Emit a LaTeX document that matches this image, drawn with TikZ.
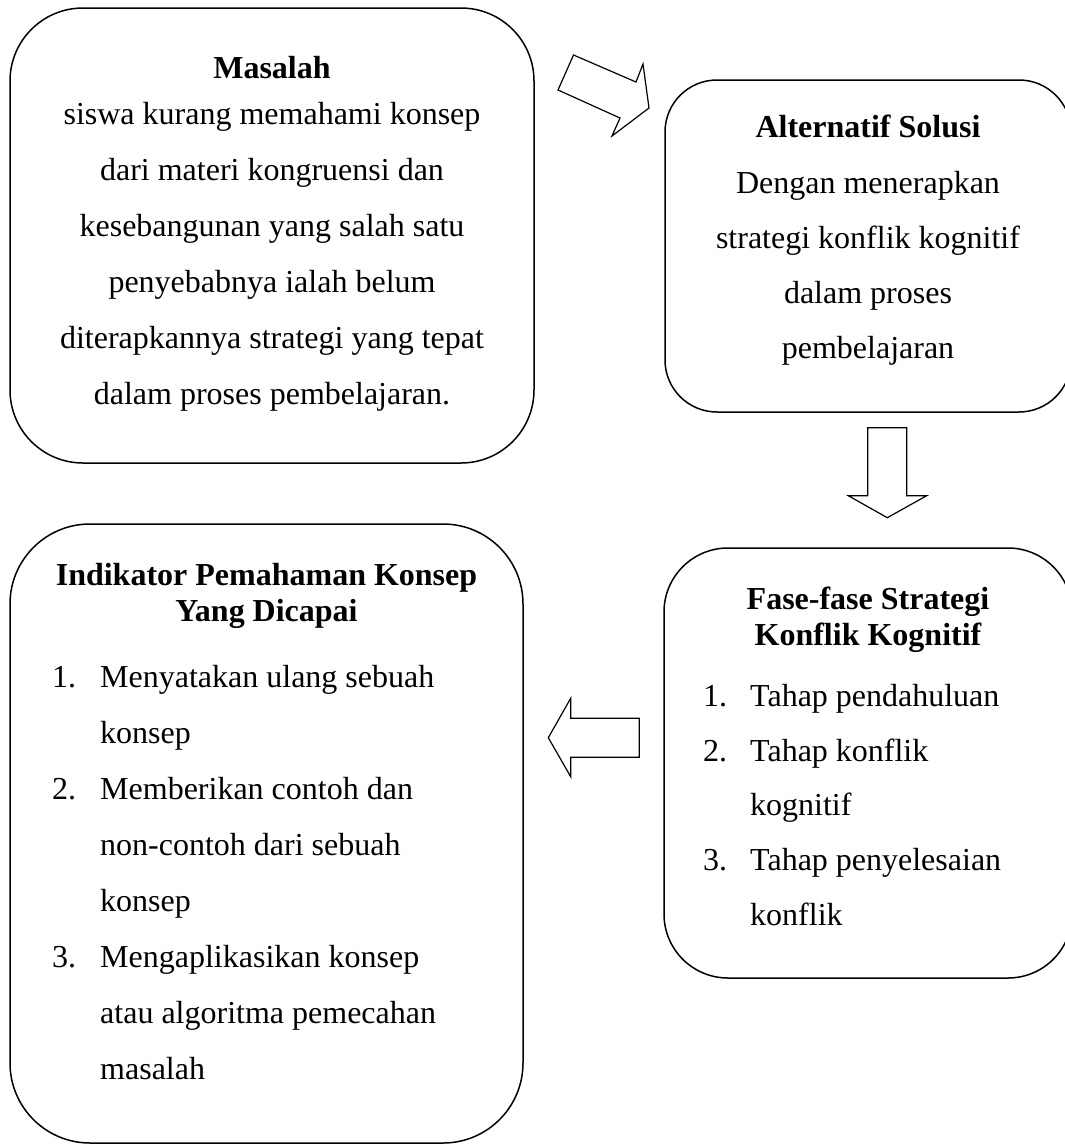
\documentclass[tikz,border=0pt]{standalone}
\usepackage{fontspec}
\setmainfont{Liberation Serif}
\begin{document}
\begin{tikzpicture}[x=1pt,y=-1pt,
  box/.style={draw, line width=1.5pt, rectangle, inner sep=0pt, outer sep=0pt},
  txt/.style={anchor=base, inner sep=0pt, font=\fontsize{32}{38}\selectfont},
  ttl/.style={anchor=base, inner sep=0pt, font=\fontsize{32}{38}\selectfont\bfseries},
  lft/.style={anchor=base west, inner sep=0pt, font=\fontsize{32}{38}\selectfont},
  blk/.style={draw, line width=1.2pt, line join=miter}]
\useasboundingbox (0,0) rectangle (1065,1144);
\clip (0,0) rectangle (1065,1144);

% boxes
\node[box, minimum width=524pt, minimum height=455pt, rounded corners=73pt] (masalah) at (272,235.5) {};
\node[box, minimum width=406pt, minimum height=332pt, rounded corners=52pt] (solusi) at (868,246) {};
\node[box, minimum width=408pt, minimum height=430pt, rounded corners=64pt] (fase) at (868,763) {};
\node[box, minimum width=513pt, minimum height=619pt, rounded corners=80pt] (indikator) at (266.5,833.5) {};

% Masalah text
\node[ttl] (m0) at (272,78) {Masalah};
\node[txt] (m1) at (272,124) {siswa kurang memahami konsep};
\node[txt] (m2) at (272,180) {dari materi kongruensi dan};
\node[txt] (m3) at (272,236) {kesebangunan yang salah satu};
\node[txt] (m4) at (272,292) {penyebabnya ialah belum};
\node[txt] (m5) at (272,348) {diterapkannya strategi yang tepat};
\node[txt] (m6) at (272,404) {dalam proses pembelajaran.};

% Alternatif Solusi text
\node[ttl] (s0) at (868,137) {Alternatif Solusi};
\node[txt] (s1) at (868,193) {Dengan menerapkan};
\node[txt] (s2) at (868,248) {strategi konflik kognitif};
\node[txt] (s3) at (868,303) {dalam proses};
\node[txt] (s4) at (868,358) {pembelajaran};

% Fase text
\node[ttl] (f0) at (868,609) {Fase-fase Strategi};
\node[ttl] (f1) at (868,645) {Konflik Kognitif};
\node[lft] (fn1) at (703,706) {1.};
\node[lft] (f2) at (750,706) {Tahap pendahuluan};
\node[lft] (fn2) at (703,761) {2.};
\node[lft] (f3) at (750,761) {Tahap konflik};
\node[lft] (f4) at (750,815) {kognitif};
\node[lft] (fn3) at (703,870) {3.};
\node[lft] (f5) at (750,870) {Tahap penyelesaian};
\node[lft] (f6) at (750,925) {konflik};

% Indikator text
\node[ttl] (i0) at (266.5,585) {Indikator Pemahaman Konsep};
\node[ttl] (i1) at (266.5,621) {Yang Dicapai};
\node[lft] (in1) at (52,687) {1.};
\node[lft] (i2) at (100,687) {Menyatakan ulang sebuah};
\node[lft] (i3) at (100,743) {konsep};
\node[lft] (in2) at (52,799) {2.};
\node[lft] (i4) at (100,799) {Memberikan contoh dan};
\node[lft] (i5) at (100,855) {non-contoh dari sebuah};
\node[lft] (i6) at (100,911) {konsep};
\node[lft] (in3) at (52,967) {3.};
\node[lft] (i7) at (100,967) {Mengaplikasikan konsep};
\node[lft] (i8) at (100,1023) {atau algoritma pemecahan};
\node[lft] (i9) at (100,1079) {masalah};

% block arrows
\draw[blk] (573.5,55) -- (636,82) -- (643,64) -- (649,108) -- (612,136) -- (620,118) -- (558,90) -- cycle;
\draw[blk] (867.7,427.7) -- (906.7,427.7) -- (906.7,495.7) -- (926.7,495.7) -- (887.3,517.7) -- (848.3,495.7) -- (867.7,495.7) -- cycle;
\draw[blk] (548.3,737.7) -- (570.7,698.3) -- (570.7,718.3) -- (639.3,718.3) -- (639.3,757.3) -- (570.7,757.3) -- (570.7,776.7) -- cycle;
\end{tikzpicture}
\end{document}
